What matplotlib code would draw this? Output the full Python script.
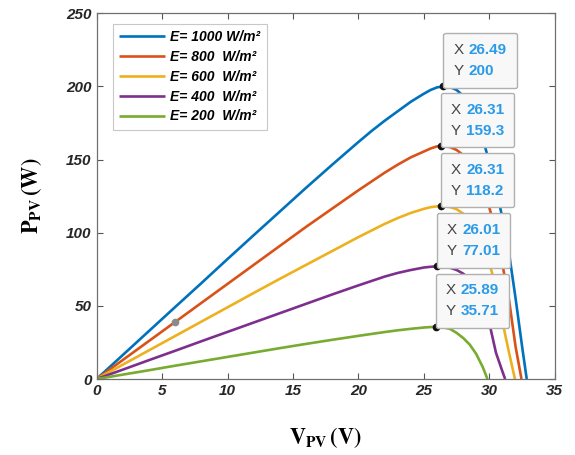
import matplotlib
matplotlib.use("Agg")
import matplotlib.pyplot as plt
from matplotlib.offsetbox import TextArea, HPacker, VPacker, AnnotationBbox

# P-V curves, one per irradiance level
v_1000 = [0, 2, 4, 6, 8, 10, 12, 14, 16, 18, 20, 21, 22, 23, 24, 25, 25.5, 26, 26.49,
          27, 27.5, 28, 28.5, 29, 29.5, 30, 30.5, 31, 31.5, 32, 32.5, 32.85]
p_1000 = [0, 16.4, 32.8, 49.2, 65.5, 82, 98.3, 114.5, 130.7, 146.5, 162, 169.5, 176.5, 183,
          189.5, 195, 197.5, 199.3, 200, 199.5, 197.5, 193.5, 186, 176, 164, 148, 130, 110,
          86, 55, 22, 0]

v_800 = [0, 2, 4, 6, 8, 10, 12, 14, 16, 18, 20, 21, 22, 23, 24, 25, 25.5, 26, 26.31,
         27, 27.5, 28, 28.5, 29, 29.5, 30, 30.5, 31, 31.5, 32, 32.45]
p_800 = [0, 13, 26, 39, 52, 65, 78, 91, 104, 116.5, 129, 135, 141, 146.5, 151.5, 155.5,
         157.5, 159, 159.3, 158.5, 156.5, 153, 147, 139, 129, 117, 100, 78, 54, 22, 0]

v_600 = [0, 2, 4, 6, 8, 10, 12, 14, 16, 18, 20, 21, 22, 23, 24, 25, 25.5, 26, 26.31,
         27, 27.5, 28, 28.5, 29, 29.5, 30, 30.5, 31, 31.5, 31.95]
p_600 = [0, 9.8, 19.6, 29.4, 39.2, 49, 58.8, 68.5, 78, 87.5, 97, 101.5, 106, 110, 113.5,
         116.3, 117.4, 118, 118.2, 117.5, 116, 113, 108, 101, 91, 79, 63, 39, 18, 0]

v_400 = [0, 2, 4, 6, 8, 10, 12, 14, 16, 18, 20, 21, 22, 23, 24, 25, 25.5, 26.01,
         26.5, 27, 27.5, 28, 28.5, 29, 29.5, 30, 30.5, 31, 31.2]
p_400 = [0, 6.4, 12.9, 19.3, 25.8, 32.2, 38.6, 45, 51.4, 57.8, 64, 67, 70, 72.5, 74.5,
         76.2, 76.7, 77.01, 76.8, 76, 74.5, 72, 68, 62, 53, 38, 18, 5, 0]

v_200 = [0, 2, 4, 6, 8, 10, 12, 14, 16, 18, 20, 21, 22, 23, 24, 25, 25.89,
         26.5, 27, 27.5, 28, 28.5, 29, 29.5, 29.85]
p_200 = [0, 3, 6, 9.1, 12.1, 15.1, 18.1, 21.1, 24, 26.8, 29.5, 30.8, 32.1, 33.3, 34.3,
         35.2, 35.71, 35.3, 34.2, 31.5, 28, 23.5, 17, 8, 0]

labels = ["E= 1000 W/m²", "E= 800  W/m²", "E= 600  W/m²", "E= 400  W/m²", "E= 200  W/m²"]
colors = ["#0072BD", "#D95319", "#EDB120", "#7E2F8E", "#77AC30"]

# maximum power points (data tips)
mpp_v = [26.49, 26.31, 26.31, 26.01, 25.89]
mpp_p = [200, 159.3, 118.2, 77.01, 35.71]

# stray data-tip marker left on the 800 W/m² curve
stray_idx = 3

x_ticks = [0, 5, 10, 15, 20, 25, 30, 35]
y_ticks = [0, 50, 100, 150, 200, 250]

plt.rcParams["font.family"] = ["Liberation Sans", "DejaVu Sans"]
plt.rcParams["mathtext.fontset"] = "stix"

fig = plt.figure(figsize=(5.75, 4.55), dpi=100)
ax = fig.add_axes([0.168, 0.167, 0.797, 0.804])

curves = [(v_1000, p_1000), (v_800, p_800), (v_600, p_600), (v_400, p_400), (v_200, p_200)]
for (v, p), lab, col in zip(curves, labels, colors):
    ax.plot(v, p, color=col, lw=1.9, label=lab, solid_capstyle="butt")

ax.plot(v_800[stray_idx], p_800[stray_idx], "o", ms=4.5, color="#8a8a8a", zorder=5)
ax.plot(mpp_v, mpp_p, "o", ms=4.5, color="#111111", ls="none", zorder=6)


def datatip(x, y):
    rows = []
    for name, val in (("X", x), ("Y", y)):
        rows.append(HPacker(children=[
            TextArea(name, textprops=dict(color="#454545", fontsize=11)),
            TextArea(f"{val:.4g}", textprops=dict(color="#2a9be8", fontsize=11,
                                                  fontweight="bold")),
        ], sep=4, align="baseline", pad=0))
    box = VPacker(children=rows, sep=5, align="left", pad=5.5)
    ab = AnnotationBbox(box, (x, y), xybox=(1.5, 0.5), xycoords="data",
                        boxcoords="offset points", box_alignment=(0, 0),
                        frameon=True, zorder=7,
                        bboxprops=dict(boxstyle="round,pad=0.15,rounding_size=0.15",
                                       ec="#b0b0b0", fc="#f8f8f8", lw=1.0))
    ax.add_artist(ab)


for x, y in zip(mpp_v, mpp_p):
    datatip(x, y)

ax.set_xlim(0, 35)
ax.set_ylim(0, 250)
ax.set_xticks(x_ticks)
ax.set_yticks(y_ticks)
ax.tick_params(direction="in", top=True, right=True, length=4, width=0.8,
               colors="#555555", labelcolor="#262626", labelsize=11)
for lbl in ax.get_xticklabels() + ax.get_yticklabels():
    lbl.set_fontweight("bold")
    lbl.set_fontstyle("italic")
for sp in ax.spines.values():
    sp.set_color("#707070")
    sp.set_linewidth(0.9)

ax.set_xlabel(r"$\mathbf{V_{PV}\,(V)}$", fontsize=16, labelpad=20)
ax.set_ylabel(r"$\mathbf{P_{PV}\,(W)}$", fontsize=16, labelpad=16)

leg = ax.legend(loc="upper left", bbox_to_anchor=(0.02, 0.99), handlelength=3.3,
                handletextpad=0.4, borderpad=0.45, labelspacing=0.42, fancybox=False,
                edgecolor="#c8c8c8", framealpha=1,
                prop=dict(weight="bold", style="italic", size=10))
leg.get_frame().set_linewidth(0.8)

fig.savefig("out.png", dpi=100)
